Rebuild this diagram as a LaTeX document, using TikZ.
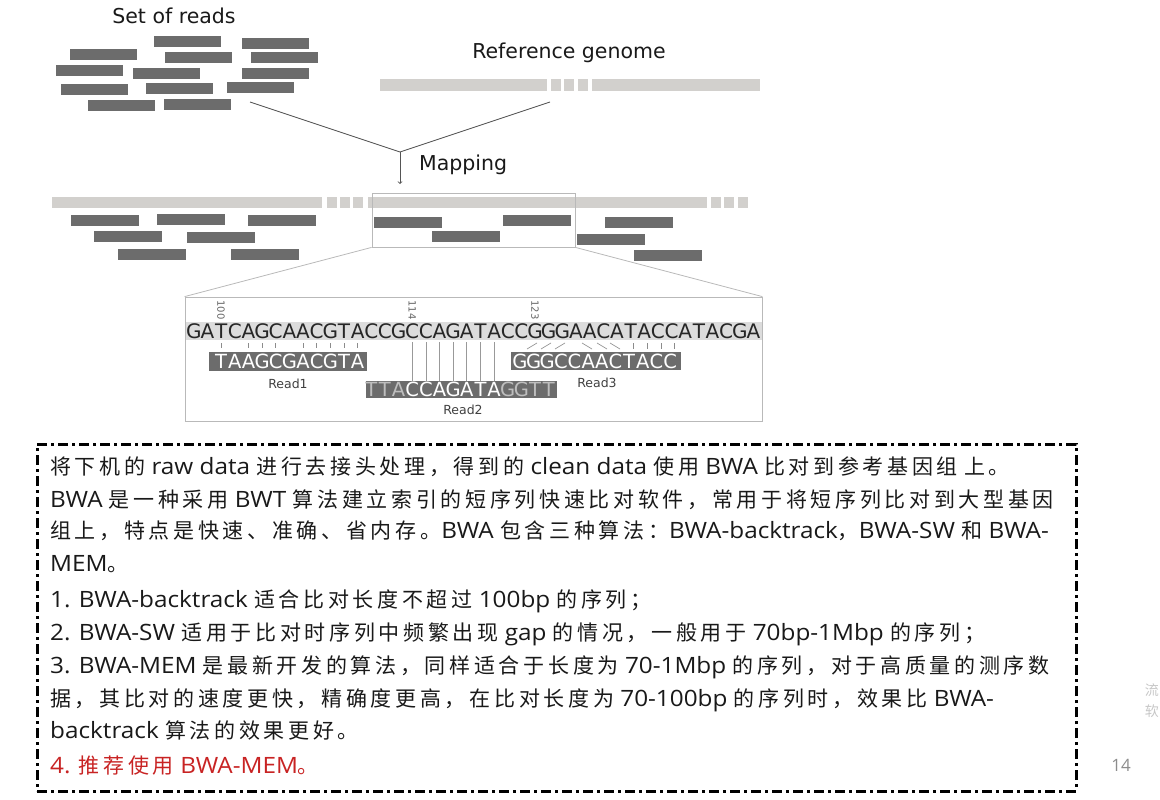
\documentclass[tikz,border=0pt]{standalone}
\usepackage{fontspec}
\setmainfont{DejaVu Sans}
\newfontfamily\latfont[FakeStretch=1.08]{Open Sans}
\newfontfamily\plainlat{Open Sans}
\newfontfamily\cjfont[LetterSpace=17.5]{Noto Sans CJK SC}
\newcommand{\zh}[1]{{\cjfont\fontsize{21}{26}\selectfont #1}}

\definecolor{readgray}{RGB}{108,108,108}
\definecolor{refgray}{RGB}{210,208,205}
\definecolor{linegray}{RGB}{85,85,85}
\definecolor{framegray}{RGB}{185,185,185}
\definecolor{bandgray}{RGB}{220,220,220}
\definecolor{bodytext}{RGB}{25,25,25}
\definecolor{clipped}{RGB}{190,190,190}
\definecolor{hintred}{RGB}{200,35,35}

\tikzset{
  readbar/.style={fill=readgray},
  refbar/.style={fill=refgray},
  label/.style={font=\fontsize{20.5}{24}\selectfont, text=bodytext, inner sep=0},
  seqch/.style={font=\fontsize{20}{20}\selectfont, text=black!85, inner sep=0, anchor=base},
  readch/.style={font=\fontsize{19.5}{20}\selectfont, inner sep=0, anchor=base},
  poslabel/.style={font=\fontsize{10}{10}\selectfont, text=black!60, rotate=-90, inner sep=0},
  readname/.style={font=\fontsize{12.5}{14}\selectfont, text=black!75, inner sep=0},
  thinframe/.style={draw=framegray, line width=0.8pt, inner sep=0},
  txtline/.style={anchor=base west, inner sep=0, font=\latfont\fontsize{22.5}{26}\selectfont, text=bodytext},
}

\begin{document}
\begin{tikzpicture}[x=1pt,y=-1pt]
    \useasboundingbox (0,0) rectangle (1160,800);
    \def\pitch{13.65} % width of one base
    \def\seqx{187}    % left end of the sequence

    % Set of reads
    \node[label] (setlabel) at (174,16) {Set of reads};
    \foreach \x/\y in {154/36, 242/38, 70/49, 165/52, 251/52, 56/65, 133/68,
                       242/68, 61/84, 146/83, 227/82, 88/100, 164/99}
        \fill[readbar] (\x,\y) rectangle ++(67,11);

    % Reference genome
    \node[label] (reflabel) at (569,53) {Reference genome};
    \foreach \a/\b in {380/547, 551/561, 564/574, 578/588, 592/760}
        \fill[refbar] (\a,79) rectangle (\b,91);

    % Mapping
    \coordinate (readsend) at (250,102);
    \coordinate (refend) at (550,102);
    \coordinate (merge) at (400,152);
    \coordinate (maptop) at (400,184);
    \draw[linegray, line width=0.8pt] (readsend) -- (merge) -- (refend);
    \draw[->, linegray, line width=0.8pt] (merge) -- (maptop);
    \node[label, anchor=west] (maplabel) at (419,165) {Mapping};

    % Mapped reads
    \foreach \a/\b in {52/322, 327/337, 340/350, 353/363, 368/707, 711/721, 724/734, 738/748}
        \fill[refbar] (\a,197) rectangle (\b,208);
    \foreach \x/\y in {71/215, 157/214, 248/215, 94/231, 187/232, 118/249, 231/249,
                       374/217, 503/215, 432/231, 605/217, 577/234, 634/250}
        \fill[readbar] (\x,\y) rectangle ++(68,11);

    % Zoomed region
    \node[thinframe, minimum width=203, minimum height=54] (zoombox) at (473.5,220) {};
    \node[thinframe, minimum width=577, minimum height=124] (seqbox) at (473.5,359) {};
    \draw[framegray, line width=0.8pt] (zoombox.south west) -- (seqbox.north west);
    \draw[framegray, line width=0.8pt] (zoombox.south east) -- (seqbox.north east);

    % Reference sequence
    \fill[bandgray] (185.5,322) rectangle (761.5,340);
    \foreach \ch [count=\i from 0] in {G,A,T,C,A,G,C,A,A,C,G,T,A,C,C,G,C,C,A,G,A,
                                       T,A,C,C,G,G,G,A,A,C,A,T,A,C,C,A,T,A,C,G,A}
        \node[seqch] (s\i) at ({\seqx+\pitch*(\i+0.5)},338.5) {\ch};
    \node[poslabel] (p100) at ({\seqx+\pitch*2.5},310) {100};
    \node[poslabel] (p114) at ({\seqx+\pitch*16.5},310) {114};
    \node[poslabel] (p123) at ({\seqx+\pitch*25.5},310) {123};

    % Read1
    \fill[readgray] ({\seqx+\pitch*2-5},352) rectangle ({\seqx+\pitch*13+3},371);
    \foreach \ch [count=\i from 2] in {T,A,A,G,C,G,A,C,G,T,A}
        \node[readch, text=white] (ra\i) at ({\seqx+\pitch*(\i+0.5)},368.5) {\ch};
    \foreach \i in {2,4,5,6,8,9,10,11,12}
        \draw[black!45, line width=0.7pt] ({\seqx+\pitch*(\i+0.5)},343) -- ++(0,5);
    \node[readname] (read1) at (288,384) {Read1};

    % Read2
    \fill[readgray] ({\seqx+\pitch*13+2},381) rectangle ({\seqx+\pitch*27+1},398);
    \foreach \ch/\c [count=\i from 13] in {T/clipped,T/clipped,A/clipped,C/white,C/white,
            A/white,G/white,A/white,T/white,A/white,G/clipped,G/clipped,T/clipped,T/clipped}
        \node[readch, text=\c] (rb\i) at ({\seqx+\pitch*(\i+0.5)},396.5) {\ch};
    \foreach \i in {16,...,22}
        \draw[black!40, line width=0.7pt] ({\seqx+\pitch*(\i+0.5)},342) -- ++(0,39);
    \node[readname] (read2) at (463,410) {Read2};

    % Read3
    \fill[readgray] (511,352) rectangle (681,370);
    \foreach \ch [count=\i from 24] in {G,G,G,C,C,A,A,C,T,A,C,C}
        \node[readch, text=white] (rc\i) at ({\seqx+\pitch*(\i+0.5)-1.5},368) {\ch};
    \foreach \x in {532,546,560}
        \draw[black!40, line width=0.7pt] (\x-5,349) -- (\x+5,343);
    \foreach \x in {587,602,615}
        \draw[black!40, line width=0.7pt] (\x-5,343) -- (\x+5,349);
    \foreach \i in {32,...,35}
        \draw[black!45, line width=0.7pt] ({\seqx+\pitch*(\i+0.5)+3},343) -- ++(0,6);
    \node[readname] (read3) at (597,383) {Read3};

    % Notes
    \node[draw=black, line width=3pt, dash pattern=on 10pt off 4pt on 3pt off 4pt,
          minimum width=1039, minimum height=347, inner sep=0] (notes) at (556.5,617.5) {};
    \node[txtline] (line1) at (50,474) {\zh{将下机的} raw data \zh{进行去接头处理，得到的} clean data \zh{使用} BWA \zh{比对到参考基因组} \zh{上。}};
    \node[txtline] (line2) at (50,507) {BWA \zh{是一种采用} BWT \zh{算法建立索引的短序列快速比对软件，常用于将短序列比对到大型基因}};
    \node[txtline] (line3) at (50,538) {\zh{组上，特点是快速、准确、省内存。}BWA \zh{包含三种算法：}BWA-backtrack\zh{，}BWA-SW \zh{和} BWA-};
    \node[txtline] (line4) at (50,571) {MEM\zh{。}};
    \node[txtline] (line5) at (50,607) {1. BWA-backtrack \zh{适合比对长度不超过} 100bp \zh{的序列；}};
    \node[txtline] (line6) at (50,640) {2. BWA-SW \zh{适用于比对时序列中频繁出现} gap \zh{的情况，一般用于} 70bp-1Mbp \zh{的序列；}};
    \node[txtline] (line7) at (50,673) {3. BWA-MEM \zh{是最新开发的算法，同样适合于长度为} 70-1Mbp \zh{的序列，对于高质量的测序数}};
    \node[txtline] (line8) at (50,706) {\zh{据，其比对的速度更快，精确度更高，在比对长度为} 70-100bp \zh{的序列时，效果比} BWA-};
    \node[txtline] (line9) at (50,738) {backtrack \zh{算法的效果更好。}};
    \node[txtline, text=hintred] (line10) at (50,773) {4. \zh{推荐使用} BWA-MEM\zh{。}};

    % Page number and side text
    \node[font=\plainlat\fontsize{17}{20}\selectfont, text=black!45] (pagenum) at (1121,765) {14};
    \node[font=\cjfont\fontsize{14}{16}\selectfont, text=black!22, anchor=east, inner sep=0] (side1) at (1159,690) {流};
    \node[font=\cjfont\fontsize{14}{16}\selectfont, text=black!22, anchor=east, inner sep=0] (side2) at (1159,711) {软};
\end{tikzpicture}
\end{document}
